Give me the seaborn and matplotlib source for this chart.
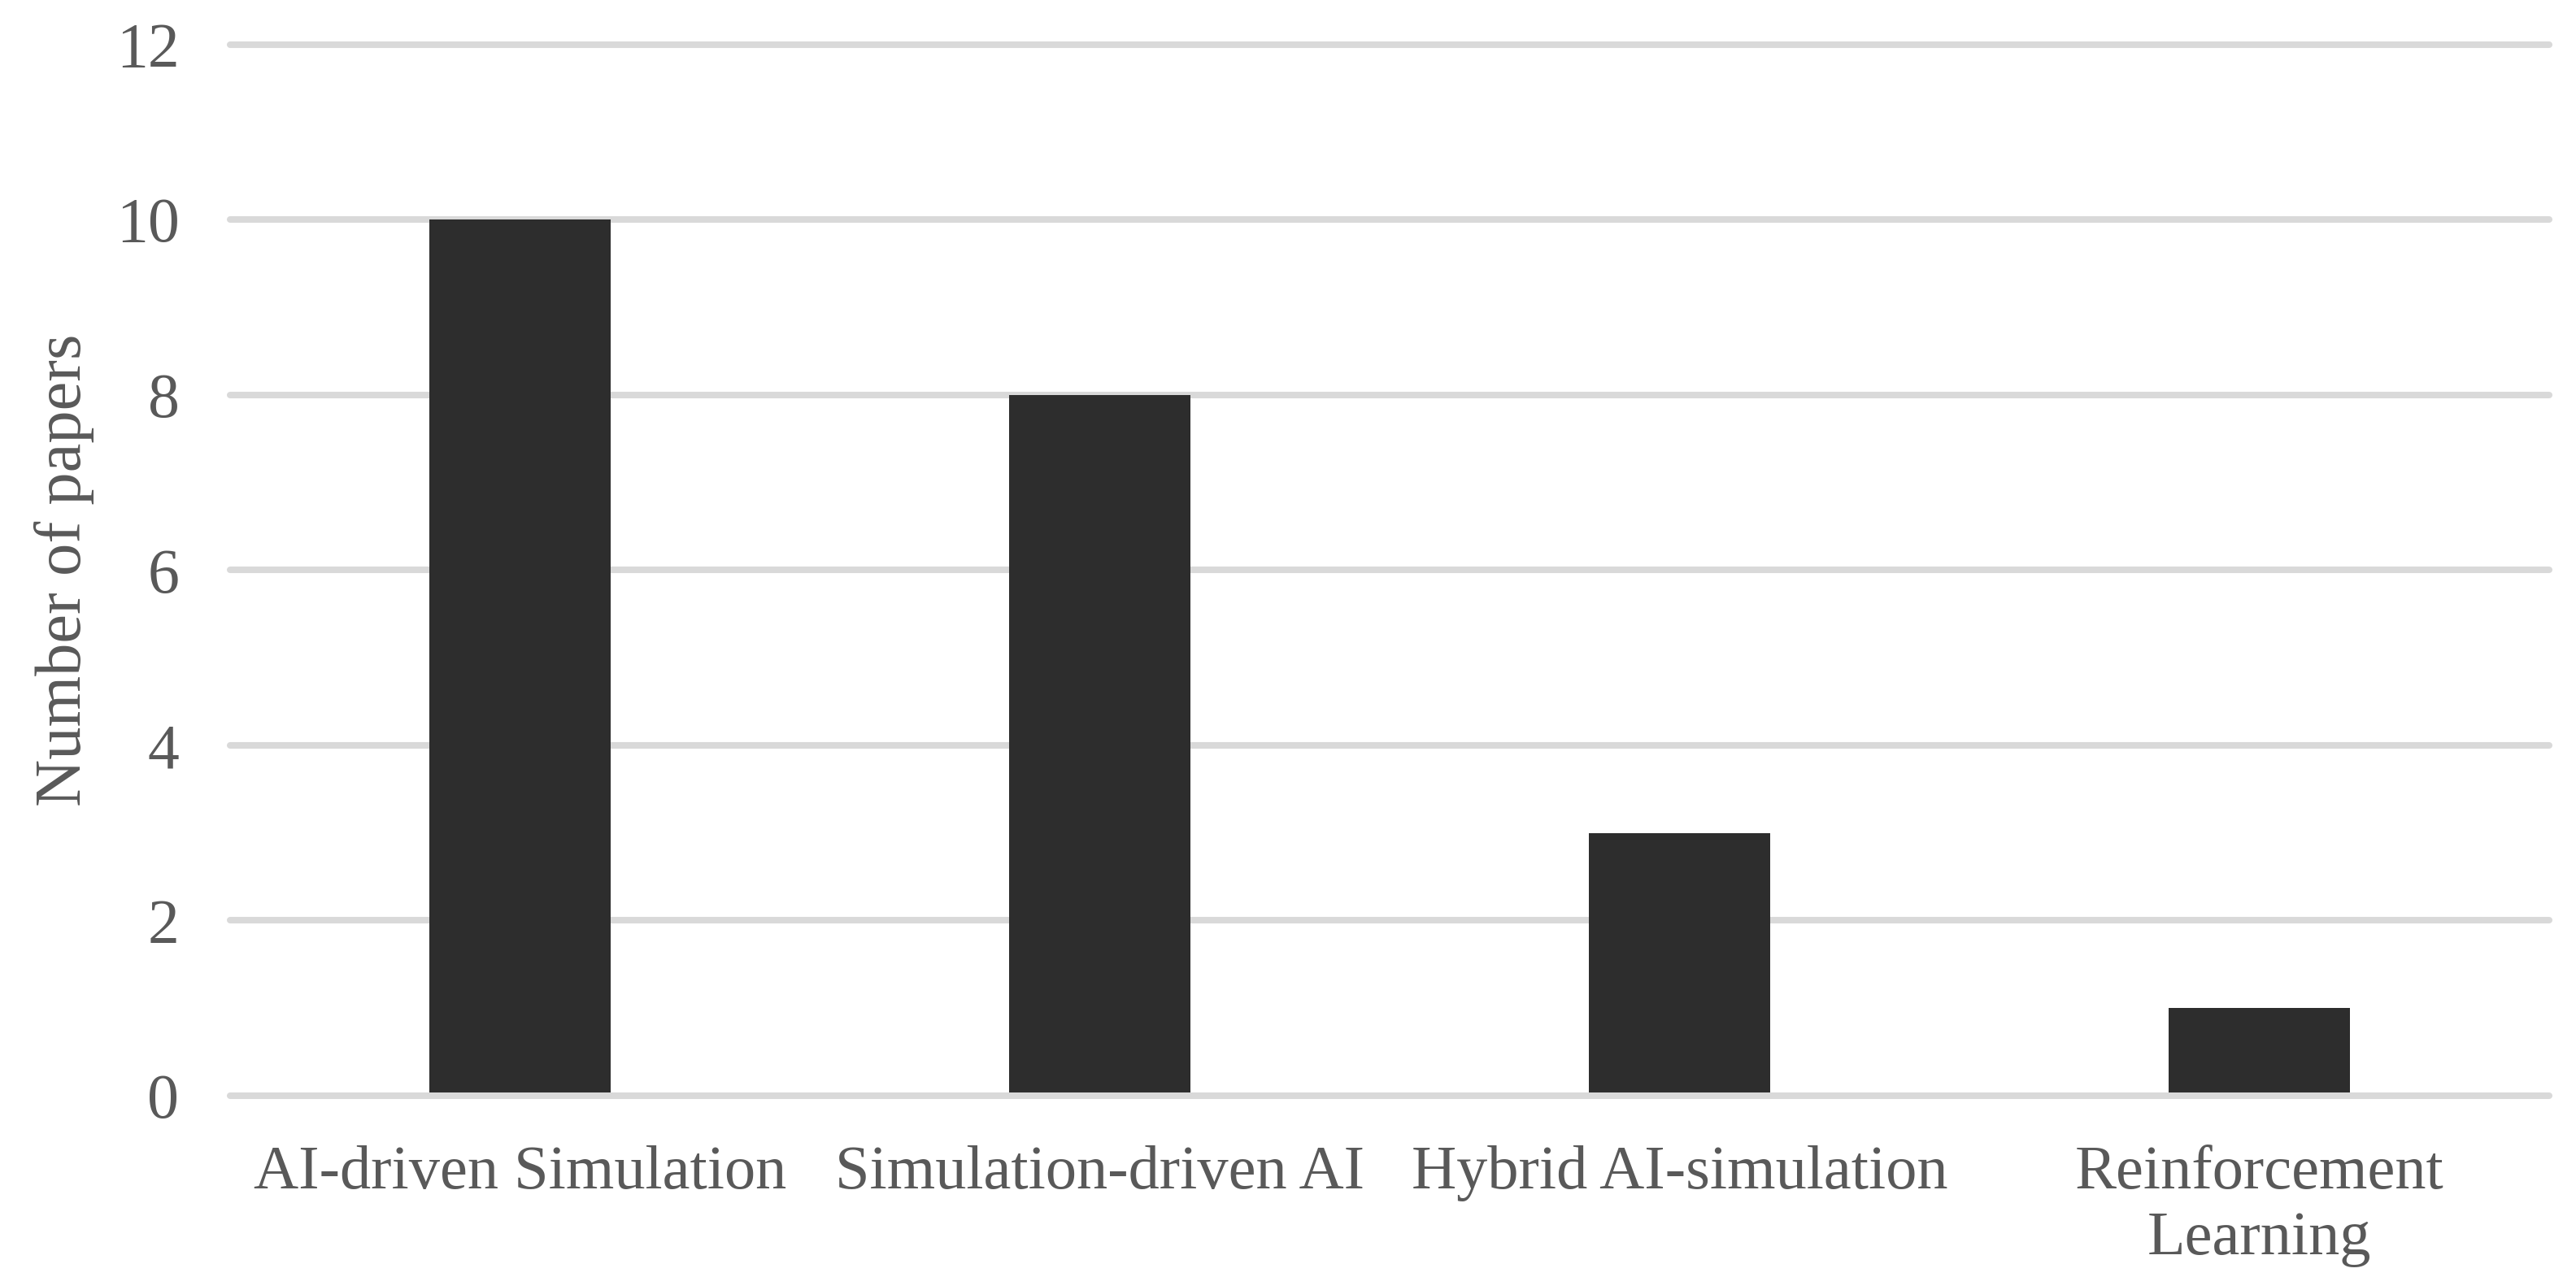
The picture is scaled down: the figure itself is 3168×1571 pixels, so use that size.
import matplotlib
matplotlib.use("Agg")
import matplotlib.pyplot as plt
import seaborn as sns
import pandas as pd

categories = ["AI-driven Simulation", "Simulation-driven AI", "Hybrid AI-simulation", "Reinforcement\nLearning"]
papers = [10, 8, 3, 1]
yticks = [0, 2, 4, 6, 8, 10, 12]

sns.set_style("white")
plt.rcParams['font.family'] = ['Liberation Serif', 'DejaVu Serif']

TEXT = "#595959"
GRID = "#d9d9d9"
BAR = "#2d2d2d"

W, H = 3168, 1571
fig = plt.figure(figsize=(W / 100, H / 100), dpi=100)
ax = fig.add_axes([283 / W, 1 - 1348 / H, (3135 - 283) / W, (1348 - 54.5) / H])

df = pd.DataFrame({"category": categories, "papers": papers})
sns.barplot(data=df, x="category", y="papers", color=BAR, saturation=1,
            width=0.314, ax=ax, zorder=3, edgecolor="none")

ax.set_ylim(0, 12)
ax.set_xlim(-0.5, 3.5)
ax.set_yticks(yticks)
ax.set_yticklabels([str(t) for t in yticks])
for t in yticks:
    ax.axhline(t, color=GRID, lw=5.8, zorder=2 if t != 0 else 4, clip_on=False)

for s in ax.spines.values():
    s.set_visible(False)
ax.tick_params(axis="both", length=0, labelsize=55, labelcolor=TEXT)
ax.tick_params(axis="y", pad=45, labelsize=56)
ax.tick_params(axis="x", pad=44)
for lbl in ax.get_xticklabels():
    lbl.set_linespacing(1.23)

ax.set_xlabel("")
ax.set_ylabel("Number of papers", fontsize=58, color=TEXT)
ax.yaxis.set_label_coords(-0.0585, 0.5)

fig.savefig("out.png", dpi=100)
